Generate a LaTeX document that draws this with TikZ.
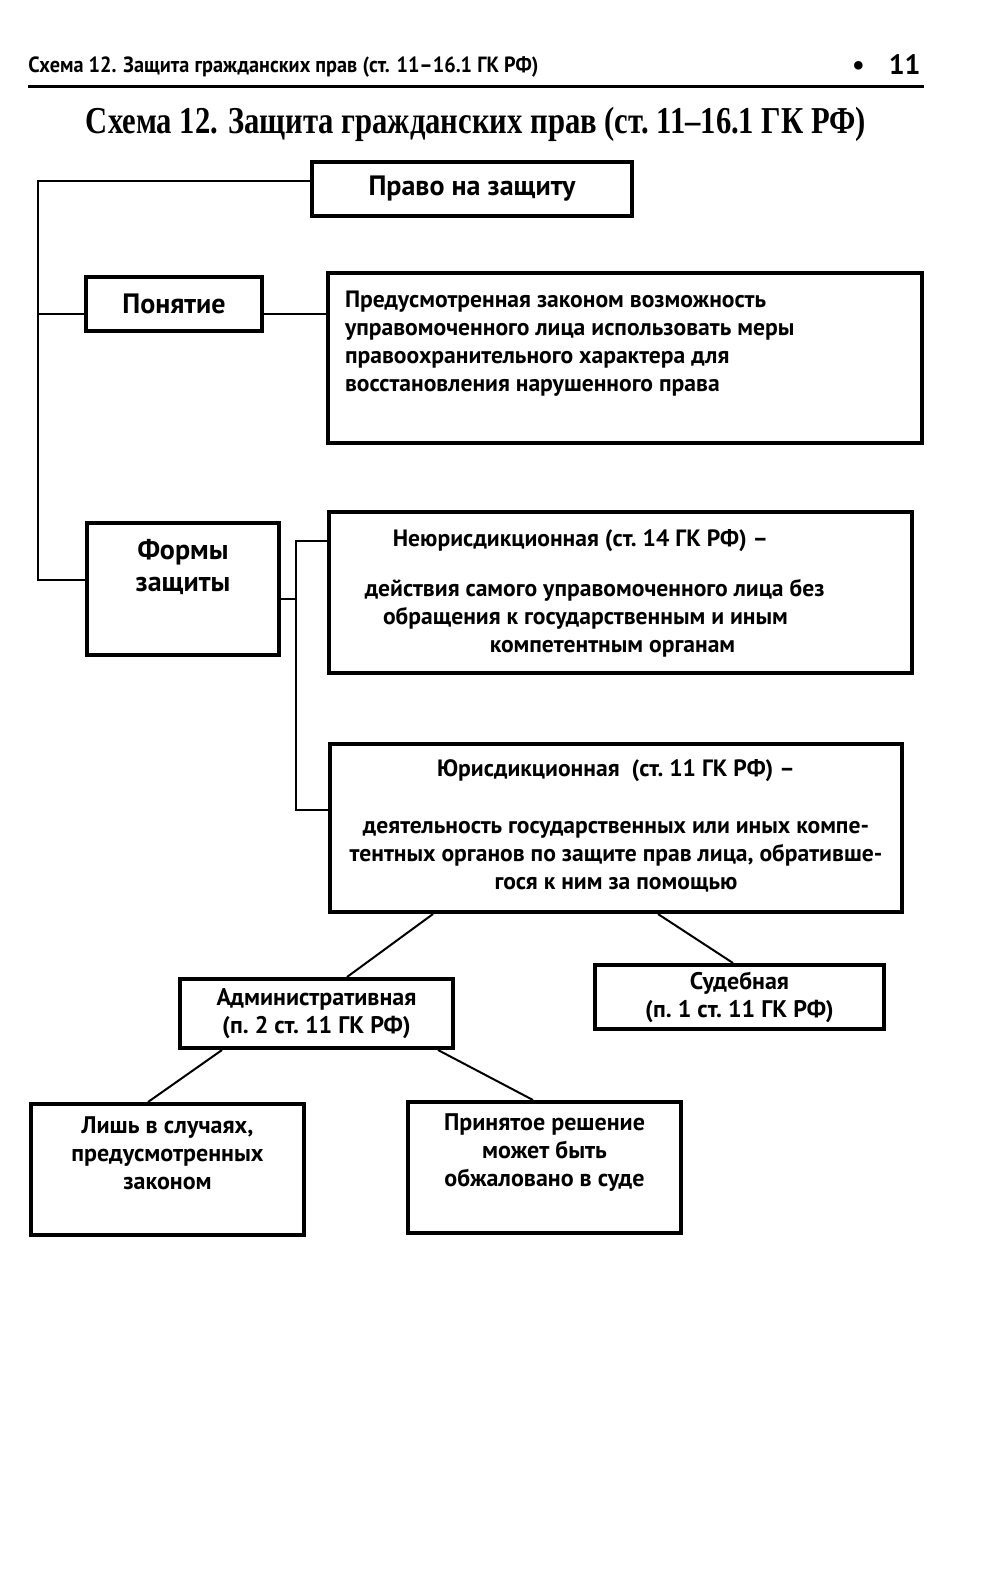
\documentclass[tikz,border=0pt]{standalone}
\usepackage{fontspec}
\setmainfont{PT Sans}
\newfontfamily\titlefont{Liberation Serif}
\usepackage{graphicx}
\newcommand\mybox[4]{\parbox[c][#2][#3]{#1}{#4}}
\tikzset{
  box/.style={draw, line width=2pt, inner sep=0pt, font=\fontsize{11.8}{14}\selectfont\bfseries},
  conn/.style={line width=1pt},
}
\begin{document}
\begin{tikzpicture}[x=0.5pt,y=-0.5pt]
\useasboundingbox[fill=white] (0,0) rectangle (1000,1570);
% header
\node[inner sep=0pt, anchor=west] (head) at (28,67) {\resizebox{255pt}{\height}{\fontsize{11}{13}\selectfont\bfseries Схема 12. Защита гражданских прав (ст. 11–16.1 ГК РФ)}};
\node[inner sep=0pt, anchor=east] (pnum) at (921,65) {\fontsize{14}{16}\selectfont\bfseries •\hspace{12pt}11};
\draw[line width=1.5pt] (28,86) -- (924,86);
% title
\node[inner sep=0pt] (title) at (476,124) {\resizebox{390pt}{\height}{\titlefont\bfseries\fontsize{19}{22}\selectfont Схема 12. Защита гражданских прав (ст.~11–16.1 ГК РФ)}};
% boxes
\node[box] (pravo) at (472,189) {\mybox{160pt}{27pt}{c}{\centering\fontsize{14}{16}\selectfont Право на защиту}};
\node[box] (pon) at (174,304) {\mybox{88pt}{27pt}{c}{\centering\fontsize{14}{16}\selectfont Понятие}};
\node[box] (def) at (625,358) {\mybox{297pt}{85pt}{t}{\leftskip=8.5pt\vspace*{9pt}Предусмотренная законом возможность\\управомоченного лица использовать меры\\правоохранительного характера для\\восстановления нарушенного права}};
\node[box] (formy) at (183,589) {\mybox{96pt}{66pt}{t}{\centering\fontsize{14}{16}\selectfont\vspace*{8pt}Формы\\защиты}};
\node[box] (neur) at (620.5,592.5) {\mybox{291.5pt}{80.5pt}{t}{\leftskip=0pt plus 1fil\rightskip=8pt plus 1fil\parfillskip=0pt\vspace*{8.5pt}Неюрисдикционная (ст.~14~ГК~РФ)~–\\[11pt]действия самого управомоченного лица без\\обращения к государственным и иным\\компетентным органам}};
\node[box] (jur) at (616,828) {\mybox{286pt}{84pt}{t}{\centering\vspace*{7.5pt}Юрисдикционная\ \ (ст.~11~ГК~РФ)~–\\[14.5pt]деятельность государственных или иных компе-\\тентных органов по защите прав лица, обративше-\\гося к ним за помощью}};
\node[box] (adm) at (316.5,1013.5) {\mybox{136.5pt}{34.5pt}{c}{\centering\fontsize{12}{14}\selectfont Административная\\(п.~2 ст.~11 ГК~РФ)}};
\node[box] (sud) at (739.5,997) {\mybox{144.5pt}{32pt}{c}{\centering\fontsize{12}{14}\selectfont Судебная\\(п.~1 ст.~11 ГК~РФ)}};
\node[box] (lish) at (167.5,1169.5) {\mybox{136.5pt}{65.5pt}{t}{\centering\fontsize{12}{14}\selectfont\vspace*{6.5pt}Лишь в случаях,\\предусмотренных\\законом}};
\node[box] (prin) at (544.5,1167.5) {\mybox{136.5pt}{65.5pt}{t}{\centering\fontsize{12}{14}\selectfont\vspace*{6pt}Принятое решение\\может быть\\обжаловано в суде}};
% connectors
\coordinate (sp) at (38,0);
\coordinate (sp2) at (296,0);
\draw[conn] ([yshift=4pt]pravo.west) -- ([yshift=4pt]pravo.west -| sp) -- ([yshift=4.5pt]formy.west -| sp) -- ([yshift=4.5pt]formy.west);
\draw[conn] ([yshift=-5pt]pon.west) -- ([yshift=-5pt]pon.west -| sp);
\draw[conn] ([yshift=-5pt]pon.east) -- ([yshift=-5pt]pon.east -| def.west);
\draw[conn] ([yshift=-5pt]formy.east) -- ([yshift=-5pt]formy.east -| sp2);
\draw[conn] ([yshift=25.75pt]neur.west) -- ([yshift=25.75pt]neur.west -| sp2) -- ([yshift=9pt]jur.west -| sp2) -- ([yshift=9pt]jur.west);
\draw[conn] ([xshift=-91.5pt]jur.south) -- ([xshift=15.25pt]adm.north);
\draw[conn] ([xshift=21pt]jur.south) -- ([xshift=-3.25pt]sud.north);
\draw[conn] ([xshift=-47.25pt]adm.south) -- ([xshift=-9.75pt]lish.north);
\draw[conn] ([xshift=60.75pt]adm.south) -- ([xshift=-5.75pt]prin.north);
\end{tikzpicture}
\end{document}
